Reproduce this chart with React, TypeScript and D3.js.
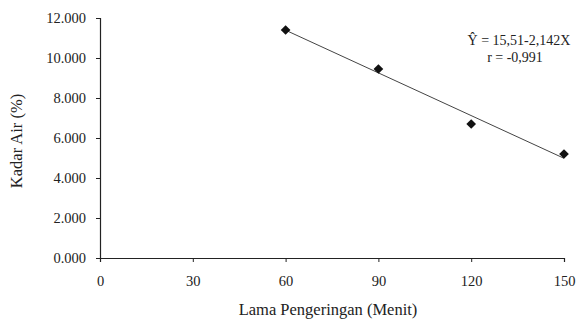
import React, { useEffect, useRef } from 'react';
import * as d3 from 'd3';

// Drying time (minutes) and moisture content (%)
const minutes = [60, 90, 120, 150];
const moisture = [11.4, 9.45, 6.7, 5.2];
const xTicks = [0, 30, 60, 90, 120, 150];
const yTicks = [0, 2, 4, 6, 8, 10, 12];
const equation = 'Ŷ = 15,51-2,142X';
const rLabel = 'r = -0,991';

const App = () => {
  const ref = useRef<SVGSVGElement>(null);

  useEffect(() => {
    const width = 576;
    const height = 325;
    const margin = { top: 18, right: 12, bottom: 67, left: 100 };
    const font = 'Liberation Serif, DejaVu Serif, serif';

    const svg = d3.select(ref.current);
    svg.selectAll('*').remove();

    const x = d3.scaleLinear().domain([0, 150]).range([margin.left, width - margin.right]);
    const y = d3.scaleLinear().domain([0, 12]).range([height - margin.bottom, margin.top]);

    // axes
    const yAxis = svg.append('g')
      .attr('transform', `translate(${margin.left},0)`)
      .call(d3.axisLeft(y).tickValues(yTicks).tickSize(4).tickPadding(10)
        .tickFormat(d => d3.format('.3f')(+d)));
    const xAxis = svg.append('g')
      .attr('transform', `translate(0,${height - margin.bottom})`)
      .call(d3.axisBottom(x).tickValues(xTicks).tickSize(4).tickPadding(14));

    [xAxis, yAxis].forEach(g => {
      g.attr('font-family', null).attr('font-size', null);
      g.select('.domain').attr('stroke', '#222').attr('stroke-width', 1.2);
      g.selectAll('line').attr('stroke', '#222');
      g.selectAll('text').style('font-family', font).style('font-size', '14.5px').attr('fill', '#222');
    });

    // regression line from the points
    const mx = d3.mean(minutes)!;
    const my = d3.mean(moisture)!;
    const sxy = d3.sum(minutes, (m, i) => (m - mx) * (moisture[i] - my));
    const sxx = d3.sum(minutes, m => (m - mx) ** 2);
    const slope = sxy / sxx;
    const icpt = my - slope * mx;
    const ends = [d3.min(minutes)!, d3.max(minutes)!];

    svg.append('path')
      .datum(ends)
      .attr('fill', 'none')
      .attr('stroke', '#444')
      .attr('stroke-width', 1)
      .attr('d', d3.line<number>().x(d => x(d)).y(d => y(icpt + slope * d)));

    // markers
    svg.append('g').selectAll('path')
      .data(minutes)
      .join('path')
      .attr('transform', (d, i) => `translate(${x(d)},${y(moisture[i])})`)
      .attr('d', d3.symbol().type(d3.symbolDiamond2).size(60)())
      .attr('fill', '#111');

    // labels
    const label = (t: string, px: number) => svg.append('text')
      .attr('text-anchor', 'middle')
      .style('font-family', font).style('font-size', `${px}px`)
      .attr('fill', '#222')
      .text(t);

    label(equation, 14).attr('x', 519).attr('y', 45);
    label(rLabel, 14).attr('x', 515).attr('y', 62);
    label('Kadar Air (%)', 16.5)
      .attr('transform', `translate(22,${(margin.top + height - margin.bottom) / 2 + 3}) rotate(-90)`);
    label('Lama Pengeringan (Menit)', 16.5).attr('x', 328).attr('y', 315);
  }, []);

  return (
    <svg ref={ref} width={576} height={325}
      style={{ position: 'absolute', left: 0, top: 0, background: '#fff' }} />
  );
};

export default App;
